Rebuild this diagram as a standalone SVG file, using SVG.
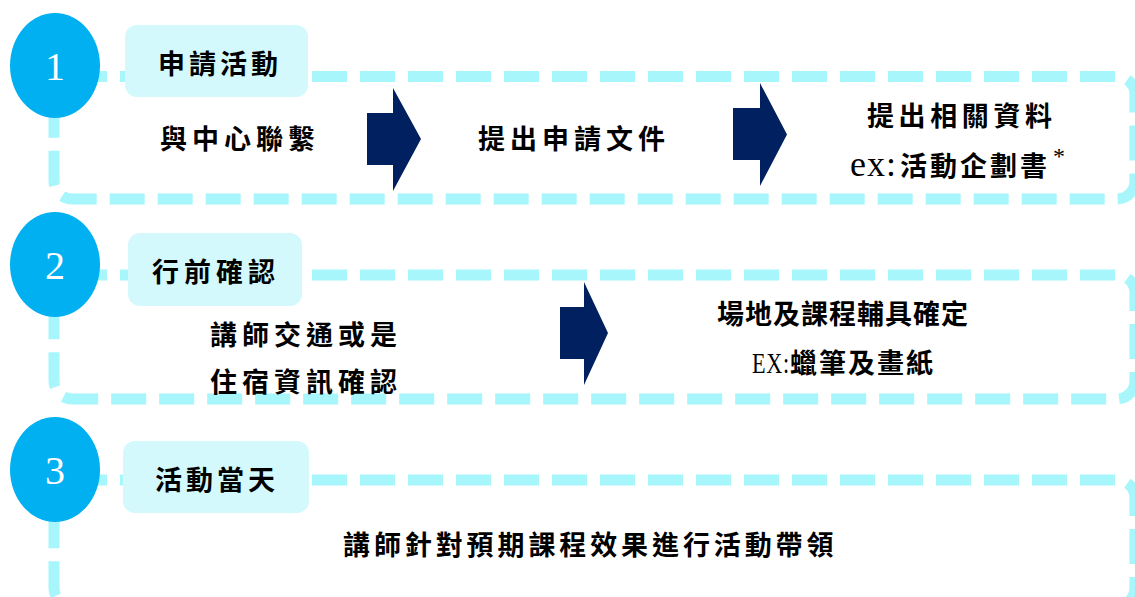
<svg xmlns="http://www.w3.org/2000/svg" width="1135" height="597" viewBox="0 0 1135 597">
<style>
.frame{fill:none;stroke:#A6F6FB;stroke-width:11;stroke-dasharray:35 13;}
.num{fill:#00B0F0;}
.numt{font-family:"Liberation Serif",serif;font-size:40px;fill:#fff;text-anchor:middle;}
.lbl{fill:#D3F9FC;}
.t{font-family:"Noto Sans CJK TC","Noto Sans CJK SC",sans-serif;font-size:27px;font-weight:bold;fill:#000;}
.s{font-family:"Liberation Serif",serif;font-weight:normal;fill:#000;}
.arr{fill:#002060;}
</style>
<rect width="1135" height="597" fill="#fff"/>
<g id="connectors">
<rect class="frame" x="54" y="76.5" width="1081" height="122.5" rx="18"/>
<rect class="frame" x="54" y="275" width="1081" height="124" rx="18"/>
<rect class="frame" x="54" y="480" width="1081" height="126" rx="18"/>
<polygon class="arr" points="367,113 393,113 393,88 421,139 393,191 393,165 367,165"/>
<polygon class="arr" points="733,108 760,108 760,83 787,134.5 760,186 760,160 733,160"/>
<polygon class="arr" points="560,307 584,307 584,282 608,333 584,385 584,359 560,359"/>
</g>
<g id="step1">
<ellipse class="num" cx="55" cy="65.5" rx="45" ry="52.5"/>
<text class="numt" x="55" y="80">1</text>
</g>
<g id="label1">
<rect class="lbl" x="125" y="25" width="183" height="72" rx="12"/>
<text class="t" x="158" y="73.5" letter-spacing="4">申請活動</text>
</g>
<g id="n1a"><text class="t" x="160" y="149" letter-spacing="5">與中心聯繫</text></g>
<g id="n1b"><text class="t" x="478" y="148.5" letter-spacing="5">提出申請文件</text></g>
<g id="n1c">
<text class="t" x="867" y="126" letter-spacing="4.6">提出相關資料</text>
<text class="s" x="850" y="176" font-size="36" letter-spacing="1">ex:</text>
<text class="t" x="900" y="176" letter-spacing="3">活動企劃書</text>
<text class="s" x="1053" y="164" font-size="24">*</text>
</g>
<g id="step2">
<ellipse class="num" cx="55" cy="264.5" rx="45" ry="52.5"/>
<text class="numt" x="55" y="279">2</text>
</g>
<g id="label2">
<rect class="lbl" x="128" y="233" width="174" height="73" rx="12"/>
<text class="t" x="152" y="281.5" letter-spacing="5">行前確認</text>
</g>
<g id="n2a">
<text class="t" x="210" y="345" letter-spacing="5">講師交通或是</text>
<text class="t" x="210" y="392" letter-spacing="5">住宿資訊確認</text>
</g>
<g id="n2b">
<text class="t" x="717" y="324" letter-spacing="1">場地及課程輔具確定</text>
<text class="s" transform="translate(752,373) scale(0.74,1)" font-size="30" letter-spacing="1">EX:</text>
<text class="t" x="790" y="373" letter-spacing="2">蠟筆及畫紙</text>
</g>
<g id="step3">
<ellipse class="num" cx="55" cy="469.5" rx="45" ry="52.5"/>
<text class="numt" x="55" y="484">3</text>
</g>
<g id="label3">
<rect class="lbl" x="123" y="441" width="186" height="72" rx="12"/>
<text class="t" x="155" y="489.5" letter-spacing="4">活動當天</text>
</g>
<g id="n3a"><text class="t" x="343" y="555" letter-spacing="3.9">講師針對預期課程效果進行活動帶領</text></g>
</svg>
